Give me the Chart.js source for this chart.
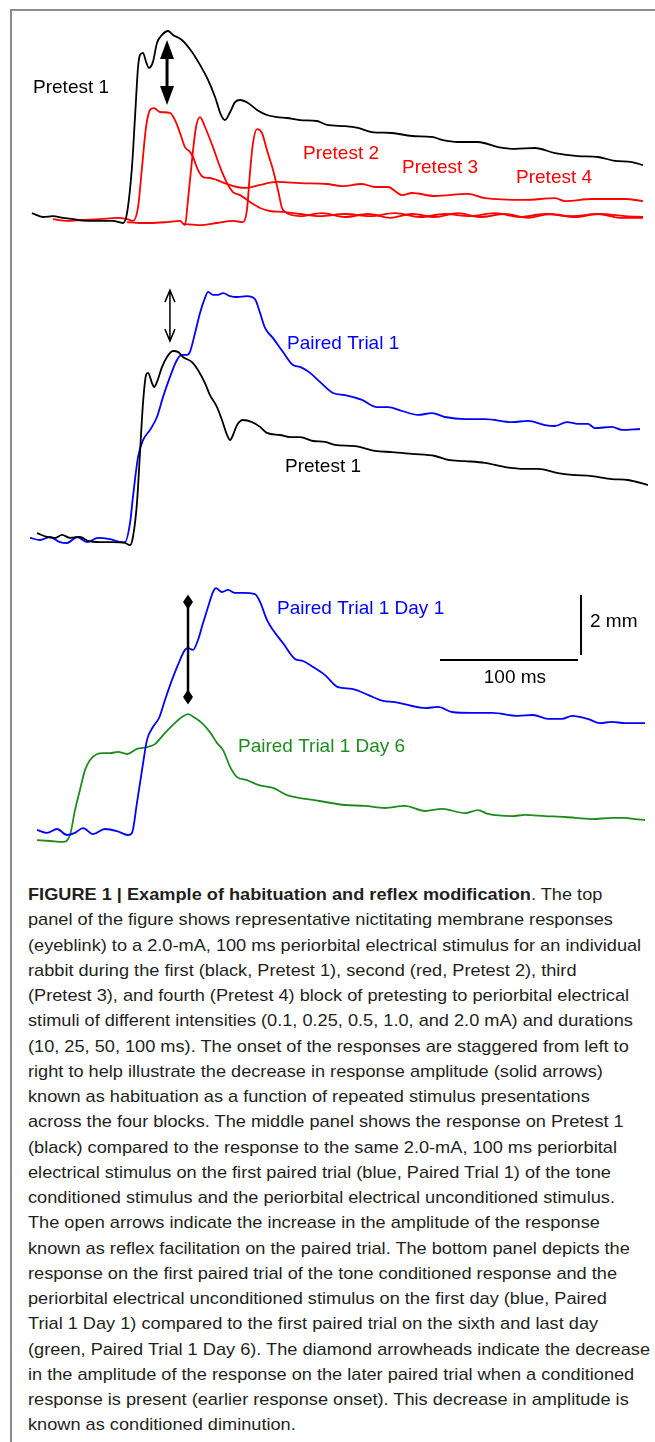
<!DOCTYPE html>
<html>
<head>
<meta charset="utf-8">
<title>Figure 1 - habituation and reflex modification</title>
<script src="https://cdn.jsdelivr.net/npm/chart.js@4.4.1/dist/chart.umd.min.js"></script>
<style>
    html, body { margin: 0; padding: 0; background: #fff; }
    body { width: 655px; height: 1442px; position: relative; overflow: hidden; }
    #frame {
        position: absolute; left: 10px; top: 9px; width: 645px; height: 1433px;
        border-left: 2px solid #8c8c8c; border-top: 2px solid #8c8c8c;
    }
    canvas.panel { position: absolute; left: 0; }
    #caption {
        position: absolute; left: 28px; top: 882px;
        font: 17px "Liberation Sans Narrow", "Liberation Sans", Arial, sans-serif;
        line-height: 25.25px; color: #231f20; white-space: pre;
        transform-origin: 0 0;
    }
</style>
</head>
<body>
<div id="frame"></div>
<canvas class="panel" id="panelTop" width="655" height="250" style="top:0px"></canvas>
<canvas class="panel" id="panelMid" width="655" height="310" style="top:250px"></canvas>
<canvas class="panel" id="panelBottom" width="655" height="310" style="top:560px"></canvas>
<div id="caption"><b>FIGURE 1 | Example of habituation and reflex modification</b>. The top
panel of the figure shows representative nictitating membrane responses
(eyeblink) to a 2.0-mA, 100 ms periorbital electrical stimulus for an individual
rabbit during the first (black, Pretest 1), second (red, Pretest 2), third
(Pretest 3), and fourth (Pretest 4) block of pretesting to periorbital electrical
stimuli of different intensities (0.1, 0.25, 0.5, 1.0, and 2.0 mA) and durations
(10, 25, 50, 100 ms). The onset of the responses are staggered from left to
right to help illustrate the decrease in response amplitude (solid arrows)
known as habituation as a function of repeated stimulus presentations
across the four blocks. The middle panel shows the response on Pretest 1
(black) compared to the response to the same 2.0-mA, 100 ms periorbital
electrical stimulus on the first paired trial (blue, Paired Trial 1) of the tone
conditioned stimulus and the periorbital electrical unconditioned stimulus.
The open arrows indicate the increase in the amplitude of the response
known as reflex facilitation on the paired trial. The bottom panel depicts the
response on the first paired trial of the tone conditioned response and the
periorbital electrical unconditioned stimulus on the first day (blue, Paired
Trial 1 Day 1) compared to the first paired trial on the sixth and last day
(green, Paired Trial 1 Day 6). The diamond arrowheads indicate the decrease
in the amplitude of the response on the later paired trial when a conditioned
response is present (earlier response onset). This decrease in amplitude is
known as conditioned diminution.</div>

<script>
// ---- data: time (ms) and eyelid / NM position (mm) ----

// top panel
const pretest1Time = [1.4, 9.4, 16.7, 23.9, 31.2, 41.3, 50.7, 60.1, 67.4, 70.3, 73.9, 76.1, 78.3, 79.7, 81.9, 84.1, 86.2, 89.1, 92.0, 95.7, 100.0, 103.6, 110.1, 117.4, 123.2, 129.0, 134.1, 138.4, 141.3, 145.0, 148.6, 152.2, 158.0, 164.5, 171.7, 179.0, 186.2, 195.7, 208.0, 215.2, 228.3, 237.7, 247.8, 262.3, 276.8, 291.3, 298.6, 310.1, 324.6, 339.1, 351.4, 365.9, 380.4, 397.1, 411.6, 423.9, 436.2, 444.2];
const pretest1Amp = [0.23, 0.10, 0.13, 0.07, 0.03, -0.03, -0.03, -0.03, -0.10, 0.23, 1.77, 3.43, 5.10, 5.50, 5.57, 5.27, 5.07, 5.27, 5.90, 6.17, 6.30, 6.17, 6.00, 5.60, 5.17, 4.67, 4.10, 3.50, 3.33, 3.60, 3.93, 4.00, 3.90, 3.67, 3.50, 3.43, 3.40, 3.33, 3.30, 3.17, 3.13, 3.07, 2.93, 2.90, 2.80, 2.77, 2.67, 2.60, 2.60, 2.43, 2.37, 2.40, 2.23, 2.13, 2.10, 1.97, 1.93, 1.83];

const pretest2Time = [16.7, 26.8, 38.4, 50.7, 63.0, 70.3, 74.6, 78.3, 81.2, 84.1, 87.0, 89.9, 94.2, 101.4, 105.1, 108.7, 112.3, 115.9, 118.1, 121.7, 125.4, 130.4, 135.5, 142.8, 150.0, 157.2, 166.7, 179.0, 195.7, 215.2, 226.1, 240.6, 250.0, 259.4, 269.6, 276.8, 293.5, 317.4, 329.7, 358.7, 380.4, 387.7, 407.2, 421.7, 431.2, 444.2];
const pretest2Amp = [0.03, -0.03, 0, 0.03, 0.07, 0.03, -0.03, 0.43, 1.77, 3.10, 3.67, 3.73, 3.60, 3.57, 3.33, 2.90, 2.43, 2.27, 2.10, 1.67, 1.43, 1.40, 1.33, 1.20, 1.10, 1.07, 1.17, 1.27, 1.23, 1.20, 1.13, 1.20, 1.10, 1.10, 0.83, 0.90, 0.80, 0.87, 0.73, 0.67, 0.73, 0.63, 0.70, 0.70, 0.70, 0.63];

const pretest3Time = [70.3, 79.7, 87.0, 99.3, 108.7, 112.3, 114.5, 117.4, 120.3, 123.2, 126.8, 132.6, 137.7, 142.8, 147.1, 152.2, 159.4, 166.7, 173.9, 183.3, 195.7, 210.1, 228.3, 246.4, 264.5, 282.6, 300.7, 318.8, 337.0, 355.1, 373.2, 391.3, 413.0, 431.2, 444.2];
const pretest3Amp = [-0.07, -0.10, -0.10, -0.07, -0.03, -0.17, 0.67, 2.00, 3.10, 3.43, 3.10, 2.43, 1.77, 1.23, 0.93, 0.83, 0.60, 0.40, 0.30, 0.27, 0.20, 0.13, 0.20, 0.13, 0.23, 0.10, 0.20, 0.13, 0.23, 0.10, 0.20, 0.13, 0.20, 0.13, 0.10];

const pretest4Time = [110.9, 123.2, 135.5, 147.1, 154.3, 157.2, 159.4, 161.6, 164.5, 168.1, 171.7, 176.1, 179.7, 182.6, 184.8, 195.7, 211.6, 228.3, 244.9, 260.9, 276.8, 293.5, 310.1, 326.1, 344.2, 360.9, 376.8, 394.9, 411.6, 427.5, 444.2];
const pretest4Amp = [-0.13, -0.17, -0.10, -0.03, -0.07, 0.33, 1.57, 2.57, 3.03, 2.90, 2.33, 1.67, 1.00, 0.40, 0.27, 0.13, 0.23, 0.10, 0.20, 0.07, 0.20, 0.10, 0.23, 0.10, 0.20, 0.07, 0.20, 0.10, 0.20, 0.07, 0.07];

// middle panel
const midPretest1Time = [5.1, 12.3, 18.1, 23.2, 29.0, 36.2, 42.0, 50.7, 60.1, 68.8, 72.5, 74.6, 77.5, 79.7, 81.9, 84.1, 85.5, 88.4, 89.9, 92.0, 95.7, 99.3, 103.6, 107.2, 110.9, 117.4, 121.7, 126.8, 130.4, 135.5, 139.1, 142.8, 145.0, 147.1, 150.0, 154.3, 160.9, 166.7, 171.7, 181.2, 188.4, 195.7, 205.1, 213.8, 221.0, 235.5, 250.0, 262.3, 276.8, 293.5, 302.9, 315.2, 329.7, 344.2, 358.7, 368.1, 382.6, 392.8, 407.2, 421.7, 433.3, 447.8];
const midPretest1Amp = [0.23, 0.10, 0.07, 0.17, 0.07, 0.10, -0.03, -0.07, -0.07, -0.10, -0.17, 0.10, 1.23, 2.90, 4.57, 5.50, 5.57, 5.23, 5.10, 5.27, 5.77, 6.10, 6.30, 6.27, 6.10, 5.93, 5.67, 5.23, 4.83, 4.43, 4.00, 3.50, 3.33, 3.50, 3.83, 4.00, 3.93, 3.77, 3.57, 3.50, 3.43, 3.43, 3.30, 3.27, 3.17, 3.13, 2.97, 2.93, 2.87, 2.80, 2.67, 2.63, 2.57, 2.43, 2.37, 2.37, 2.23, 2.17, 2.13, 2.03, 2.00, 1.83];

const paired1Time = [0, 7.2, 14.5, 21.7, 26.8, 34.1, 41.3, 49.3, 58.0, 66.7, 68.8, 72.5, 74.6, 78.3, 81.9, 87.0, 92.0, 96.4, 101.4, 106.5, 110.1, 113.8, 115.9, 119.6, 123.2, 126.8, 129.0, 132.6, 136.2, 139.9, 145.0, 150.0, 157.2, 163.0, 166.7, 170.3, 176.1, 183.3, 190.6, 195.7, 202.9, 210.1, 219.6, 228.3, 240.6, 251.4, 259.4, 269.6, 281.2, 291.3, 300.7, 315.2, 329.7, 349.3, 360.9, 373.2, 380.4, 389.1, 397.1, 404.3, 409.4, 421.7, 429.0, 442.0];
const paired1Amp = [0.07, 0, 0.10, -0.07, -0.10, 0.10, -0.07, 0.07, 0.03, -0.07, -0.07, 0.57, 1.43, 2.77, 3.33, 3.67, 4.10, 4.77, 5.43, 6.00, 6.17, 6.17, 6.27, 6.90, 7.57, 8.07, 8.27, 8.17, 8.17, 8.23, 8.13, 8.10, 8.13, 8.03, 7.57, 7.07, 6.73, 6.27, 5.83, 5.77, 5.57, 5.27, 4.90, 4.83, 4.67, 4.43, 4.43, 4.30, 4.17, 4.23, 4.10, 4.03, 4.03, 3.93, 3.97, 3.83, 3.80, 3.93, 3.87, 3.87, 3.73, 3.77, 3.67, 3.70];

// bottom panel
const day1Time = [5.1, 12.3, 19.6, 26.8, 32.6, 38.4, 45.7, 54.3, 63.0, 71.0, 73.9, 77.5, 81.2, 84.8, 89.1, 93.5, 97.8, 102.9, 107.2, 112.3, 114.5, 118.1, 121.7, 125.4, 129.0, 132.6, 134.8, 139.1, 143.5, 148.6, 154.3, 163.0, 166.7, 171.7, 176.1, 183.3, 192.0, 197.8, 205.1, 213.8, 223.2, 233.3, 244.9, 255.8, 264.5, 276.8, 286.2, 295.7, 305.8, 320.3, 334.8, 353.6, 364.5, 375.4, 385.5, 392.8, 404.3, 413.0, 421.7, 431.2, 438.4, 445.7];
const day1Amp = [0.17, 0.07, 0.20, 0, 0.07, 0.23, 0.03, 0.20, 0.13, 0, 0.07, 1.07, 2.17, 3.17, 3.60, 3.90, 4.50, 5.17, 5.67, 6.17, 6.23, 6.17, 6.50, 7.07, 7.60, 8.10, 8.23, 8.10, 8.17, 8.07, 8.07, 8.03, 7.77, 7.17, 6.83, 6.40, 5.87, 5.80, 5.60, 5.33, 4.93, 4.87, 4.67, 4.47, 4.43, 4.30, 4.23, 4.27, 4.10, 4.07, 4.07, 3.97, 4.00, 3.87, 3.87, 3.97, 3.87, 3.73, 3.77, 3.73, 3.73, 3.73];

const day6Time = [5.1, 14.5, 23.9, 29.0, 32.6, 36.2, 39.9, 43.5, 48.6, 52.9, 58.0, 63.8, 70.3, 77.5, 84.8, 90.6, 96.4, 103.6, 110.1, 114.5, 119.6, 124.6, 130.4, 135.5, 139.9, 145.0, 150.0, 157.2, 165.2, 176.1, 186.2, 195.7, 205.1, 213.8, 228.3, 242.8, 257.2, 271.7, 286.2, 298.6, 315.2, 324.6, 331.9, 349.3, 358.7, 373.2, 387.7, 407.2, 421.7, 431.2, 438.4, 445.7];
const day6Amp = [-0.17, -0.20, -0.23, 0, 0.83, 1.50, 2.17, 2.50, 2.70, 2.73, 2.73, 2.77, 2.70, 2.87, 2.93, 3.03, 3.33, 3.67, 3.93, 4.03, 3.90, 3.73, 3.43, 3.07, 2.83, 2.27, 1.93, 1.83, 1.67, 1.57, 1.33, 1.23, 1.17, 1.10, 1.00, 0.97, 0.90, 0.97, 0.80, 0.87, 0.73, 0.83, 0.70, 0.63, 0.67, 0.63, 0.60, 0.53, 0.57, 0.57, 0.53, 0.50];

// scale bar
const scaleBarMs = 100;
const scaleBarMm = 2;

// ---- layout (view windows in data units, colours, annotation placement) ----
const X_MIN = -21.74;
const X_MAX = 452.9;
const BLACK = '#000000';
const RED = '#ff0000';
const BLUE = '#0000ff';
const GREEN = '#1f8b1f';
const LABEL_FONT = '19px "Liberation Sans", Arial, sans-serif';

function toPoints(times, amps) {
    return times.map((t, i) => ({ x: t, y: amps[i] }));
}

function trace(label, times, amps, color) {
    return {
        label: label,
        data: toPoints(times, amps),
        borderColor: color,
        backgroundColor: color,
        borderWidth: 1.8,
        pointRadius: 0,
        fill: false,
        cubicInterpolationMode: 'monotone'
    };
}

/**
 * Draws labels, arrows and the scale bar in data coordinates
 */
function marksPlugin(marks) {
    return {
        id: 'panelMarks',
        afterDatasetsDraw(chart) {
            const ctx = chart.ctx;
            const xs = chart.scales.x;
            const ys = chart.scales.y;
            ctx.save();
            marks.forEach(m => {
                if (m.type === 'text') {
                    ctx.font = LABEL_FONT;
                    ctx.fillStyle = m.color;
                    ctx.textAlign = m.align || 'left';
                    ctx.textBaseline = 'middle';
                    ctx.fillText(m.text, xs.getPixelForValue(m.x), ys.getPixelForValue(m.y));
                } else if (m.type === 'line') {
                    ctx.strokeStyle = BLACK;
                    ctx.lineWidth = 2;
                    ctx.beginPath();
                    ctx.moveTo(xs.getPixelForValue(m.x1), ys.getPixelForValue(m.y1));
                    ctx.lineTo(xs.getPixelForValue(m.x2), ys.getPixelForValue(m.y2));
                    ctx.stroke();
                } else {
                    const px = xs.getPixelForValue(m.x);
                    const top = ys.getPixelForValue(m.y1);
                    const bot = ys.getPixelForValue(m.y2);
                    ctx.strokeStyle = BLACK;
                    ctx.fillStyle = BLACK;
                    if (m.type === 'solidArrow') {
                        const hl = 19, hw = 7;
                        ctx.lineWidth = 3;
                        ctx.beginPath();
                        ctx.moveTo(px, top + hl - 2);
                        ctx.lineTo(px, bot - hl + 2);
                        ctx.stroke();
                        ctx.beginPath();
                        ctx.moveTo(px, top);
                        ctx.lineTo(px - hw, top + hl);
                        ctx.lineTo(px + hw, top + hl);
                        ctx.closePath();
                        ctx.moveTo(px, bot);
                        ctx.lineTo(px - hw, bot - hl);
                        ctx.lineTo(px + hw, bot - hl);
                        ctx.closePath();
                        ctx.fill();
                    } else if (m.type === 'openArrow') {
                        const hl = 12, hw = 5;
                        ctx.lineWidth = 1.5;
                        ctx.beginPath();
                        ctx.moveTo(px, top);
                        ctx.lineTo(px, bot);
                        ctx.moveTo(px - hw, top + hl);
                        ctx.lineTo(px, top);
                        ctx.lineTo(px + hw, top + hl);
                        ctx.moveTo(px - hw, bot - hl);
                        ctx.lineTo(px, bot);
                        ctx.lineTo(px + hw, bot - hl);
                        ctx.stroke();
                    } else if (m.type === 'diamondBar') {
                        const dw = 5, dh = 7.5;
                        ctx.lineWidth = 2.5;
                        ctx.beginPath();
                        ctx.moveTo(px, top);
                        ctx.lineTo(px, bot);
                        ctx.stroke();
                        [top, bot].forEach(cy => {
                            ctx.beginPath();
                            ctx.moveTo(px, cy - dh);
                            ctx.lineTo(px + dw, cy);
                            ctx.lineTo(px, cy + dh);
                            ctx.lineTo(px - dw, cy);
                            ctx.closePath();
                            ctx.fill();
                        });
                    }
                }
            });
            ctx.restore();
        }
    };
}

function makePanel(canvasId, datasets, yMin, yMax, marks) {
    const canvas = document.getElementById(canvasId);
    return new Chart(canvas.getContext('2d'), {
        type: 'line',
        data: { datasets: datasets },
        options: {
            responsive: false,
            devicePixelRatio: 1,
            animation: false,
            layout: { padding: 0 },
            plugins: {
                legend: { display: false },
                tooltip: { enabled: false }
            },
            scales: {
                x: { type: 'linear', min: X_MIN, max: X_MAX, display: false },
                y: { type: 'linear', min: yMin, max: yMax, display: false }
            }
        },
        plugins: [marksPlugin(marks)]
    });
}

// top panel: habituation over the four pretest blocks
makePanel('panelTop', [
    trace('Pretest 1', pretest1Time, pretest1Amp, BLACK),
    trace('Pretest 2', pretest2Time, pretest2Amp, RED),
    trace('Pretest 3', pretest3Time, pretest3Amp, RED),
    trace('Pretest 4', pretest4Time, pretest4Amp, RED)
], -1.0, 7.333, [
    { type: 'solidArrow', x: 99.3, y1: 6.0, y2: 3.83 },
    { type: 'text', text: 'Pretest 1', x: 2.2, y: 4.4, color: BLACK },
    { type: 'text', text: 'Pretest 2', x: 197.8, y: 2.2, color: RED },
    { type: 'text', text: 'Pretest 3', x: 269.6, y: 1.73, color: RED },
    { type: 'text', text: 'Pretest 4', x: 352.2, y: 1.4, color: RED }
]);

// middle panel: reflex facilitation on the first paired trial
makePanel('panelMid', [
    trace('Pretest 1', midPretest1Time, midPretest1Amp, BLACK),
    trace('Paired Trial 1', paired1Time, paired1Amp, BLUE)
], -0.667, 9.667, [
    { type: 'openArrow', x: 101.4, y1: 8.33, y2: 6.63 },
    { type: 'text', text: 'Paired Trial 1', x: 186.2, y: 6.53, color: BLUE },
    { type: 'text', text: 'Pretest 1', x: 184.8, y: 2.43, color: BLACK }
]);

// bottom panel: conditioned diminution, day 1 vs day 6
const barRight = 399.3;
const barTopMm = 8.0;
const barHorizMm = 5.83;
makePanel('panelBottom', [
    trace('Paired Trial 1 Day 1', day1Time, day1Amp, BLUE),
    trace('Paired Trial 1 Day 6', day6Time, day6Amp, GREEN)
], -1.167, 9.167, [
    { type: 'diamondBar', x: 114.5, y1: 7.77, y2: 4.60 },
    { type: 'text', text: 'Paired Trial 1 Day 1', x: 179.0, y: 7.53, color: BLUE },
    { type: 'text', text: 'Paired Trial 1 Day 6', x: 150.7, y: 2.93, color: GREEN },
    { type: 'line', x1: barRight, y1: barTopMm, x2: barRight, y2: barTopMm - scaleBarMm },
    { type: 'line', x1: barRight - 2.2 - scaleBarMs, y1: barHorizMm, x2: barRight - 2.2, y2: barHorizMm },
    { type: 'text', text: scaleBarMm + ' mm', x: 405.8, y: 7.1, color: BLACK },
    { type: 'text', text: scaleBarMs + ' ms', x: 351.4, y: 5.23, color: BLACK, align: 'center' }
]);

// squeeze the caption so its widest line spans the text column
const caption = document.getElementById('caption');
const capWidth = caption.getBoundingClientRect().width;
if (capWidth > 0) {
    caption.style.transform = 'scaleX(' + (622 / capWidth).toFixed(4) + ')';
}
</script>
</body>
</html>
